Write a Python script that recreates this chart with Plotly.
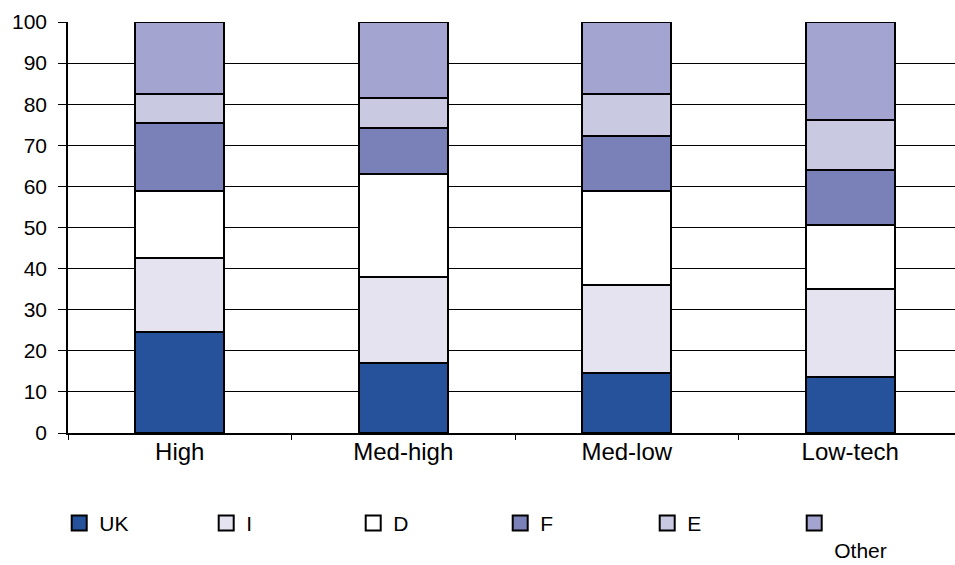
import plotly.graph_objects as go

# Technology-intensity groups on the x axis
categories = ["High", "Med-high", "Med-low", "Low-tech"]

# Percentage shares by country (each column sums to 100)
uk = [24.5, 17.1, 14.7, 13.7]
it = [18.0, 20.9, 21.3, 21.4]
de = [16.5, 24.9, 23.0, 15.6]
fr = [16.5, 11.2, 13.2, 13.2]
es = [6.9, 7.4, 10.2, 12.3]
other = [17.6, 18.5, 17.6, 23.8]

series_keys = ["UK", "I", "D", "F", "E", "Other"]
legend_labels = ["UK", "I", "D", "F", "E", "<br>Other"]
series_values = [uk, it, de, fr, es, other]
series_colors = ["#26519B", "#E4E3EF", "#FFFFFF", "#7A81B9", "#C9C9E1", "#A3A5D0"]

y_ticks = list(range(0, 101, 10))

FONT = "Liberation Sans, Arial, sans-serif"

fig = go.Figure()
for key, label, vals, col in zip(series_keys, legend_labels, series_values, series_colors):
    # stacked segment for this country
    fig.add_trace(go.Bar(
        x=categories,
        y=vals,
        name=key,
        legendgroup=key,
        showlegend=False,
        width=0.40,
        marker=dict(color=col, line=dict(color="#000000", width=2)),
    ))
    # larger square swatch for the legend, toggles together with the bars
    fig.add_trace(go.Scatter(
        x=[None],
        y=[None],
        mode="markers",
        name=label,
        legendgroup=key,
        showlegend=True,
        hoverinfo="skip",
        marker=dict(symbol="square", size=15, color=col,
                    line=dict(color="#000000", width=2)),
    ))

fig.update_layout(
    width=955,
    height=565,
    barmode="stack",
    paper_bgcolor="#FFFFFF",
    plot_bgcolor="#FFFFFF",
    margin=dict(l=68, r=0, t=22, b=132, pad=0),
    font=dict(family=FONT, size=21, color="#000000"),
    showlegend=True,
    legend=dict(
        orientation="h",
        xref="container",
        yref="container",
        x=0.062,
        y=0.110,
        xanchor="left",
        yanchor="top",
        valign="top",
        itemsizing="trace",
        entrywidth=102,
        entrywidthmode="pixels",
        traceorder="normal",
        font=dict(family=FONT, size=21, color="#000000"),
        bgcolor="rgba(0,0,0,0)",
    ),
)

fig.update_xaxes(
    range=[-0.5, 3.4687],
    showline=True,
    linecolor="#000000",
    linewidth=1.5,
    ticks="outside",
    tickson="boundaries",
    ticklen=5,
    tickcolor="#000000",
    tickwidth=1,
    showgrid=False,
    zeroline=False,
    ticklabelstandoff=-4,
    tickfont=dict(family=FONT, size=24, color="#000000"),
)

fig.update_yaxes(
    range=[0, 100],
    tickvals=y_ticks,
    showline=True,
    linecolor="#000000",
    linewidth=1.5,
    ticks="outside",
    ticklen=8,
    tickcolor="#000000",
    tickwidth=1,
    showgrid=True,
    gridcolor="#000000",
    gridwidth=1,
    zeroline=False,
    ticklabelstandoff=7,
    tickfont=dict(family=FONT, size=21, color="#000000"),
)

fig.write_html("out.html")
